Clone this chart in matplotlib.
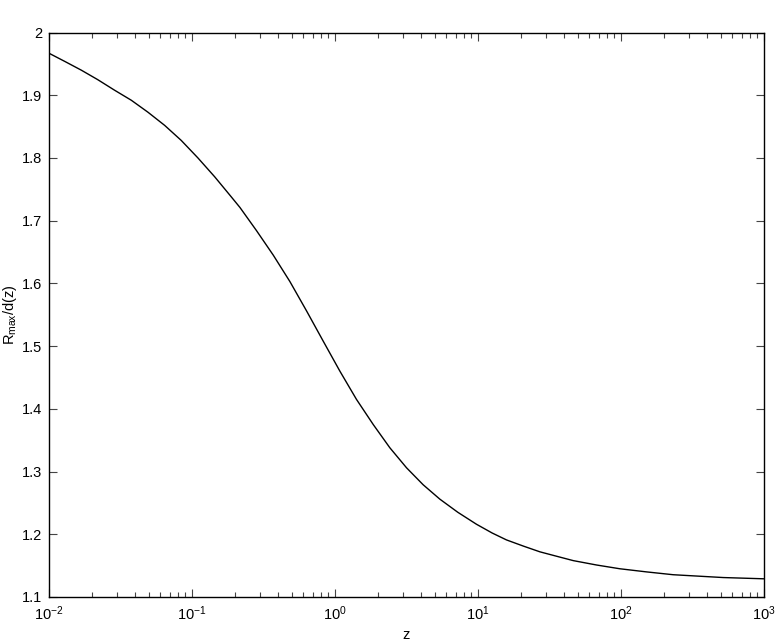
import numpy as np
import matplotlib
matplotlib.use("Agg")
import matplotlib.pyplot as plt
from matplotlib.ticker import FormatStrFormatter, LogLocator

plt.rcParams['font.family'] = ['Liberation Sans', 'DejaVu Sans']
plt.rcParams['mathtext.fontset'] = 'custom'
plt.rcParams['mathtext.rm'] = 'Liberation Sans'
plt.rcParams['mathtext.it'] = 'Liberation Sans'
plt.rcParams['mathtext.default'] = 'regular'

# values: log10(z) and R_max/d(z)
log_z = [-2.0, -1.89, -1.774, -1.66, -1.541, -1.424, -1.308, -1.191, -1.075,
         -0.958, -0.841, -0.725, -0.664, -0.548, -0.431, -0.315, -0.198, -0.082,
         0.035, 0.151, 0.268, 0.384, 0.501, 0.617, 0.734, 0.86, 0.99, 1.1, 1.20,
         1.32, 1.434, 1.55, 1.667, 1.83, 1.993, 2.18, 2.366, 2.716, 3.0]
r_over_d = [1.967, 1.954, 1.940, 1.925, 1.908, 1.892, 1.873, 1.852, 1.828,
            1.800, 1.770, 1.738, 1.721, 1.684, 1.645, 1.603, 1.556, 1.508,
            1.460, 1.415, 1.375, 1.338, 1.306, 1.279, 1.256, 1.235, 1.216, 1.202, 1.191,
            1.181, 1.172, 1.165, 1.158, 1.151, 1.145, 1.140, 1.1355, 1.131, 1.129]
z = 10.0 ** np.array(log_z)

yticks = [1.1, 1.2, 1.3, 1.4, 1.5, 1.6, 1.7, 1.8, 1.9, 2.0]

fig = plt.figure(figsize=(7.81, 6.44), dpi=100)
ax = fig.add_axes([0.0627, 0.073, 0.9153, 0.8765])

ax.plot(z, r_over_d, color='black', linewidth=1.0)

ax.set_xscale('log')
ax.set_xlim(1e-2, 1e3)
ax.set_ylim(1.1, 2.0)
ax.set_yticks(yticks)
ax.yaxis.set_major_formatter(FormatStrFormatter('%g'))
ax.xaxis.set_minor_locator(LogLocator(base=10, subs=np.arange(2, 10)))

ax.tick_params(which='both', direction='in', top=True, right=True,
               labelsize=10.5, width=0.8, color='#444444')
ax.tick_params(which='major', length=6, pad=5)
ax.tick_params(which='minor', length=3.5)
for s in ax.spines.values():
    s.set_linewidth(1.0)

ax.set_xlabel('z', fontsize=10.5, labelpad=4)
ax.set_ylabel(r'R$_{max}$/d(z)', fontsize=10.5, labelpad=2)

fig.savefig('out.png', dpi=100)
